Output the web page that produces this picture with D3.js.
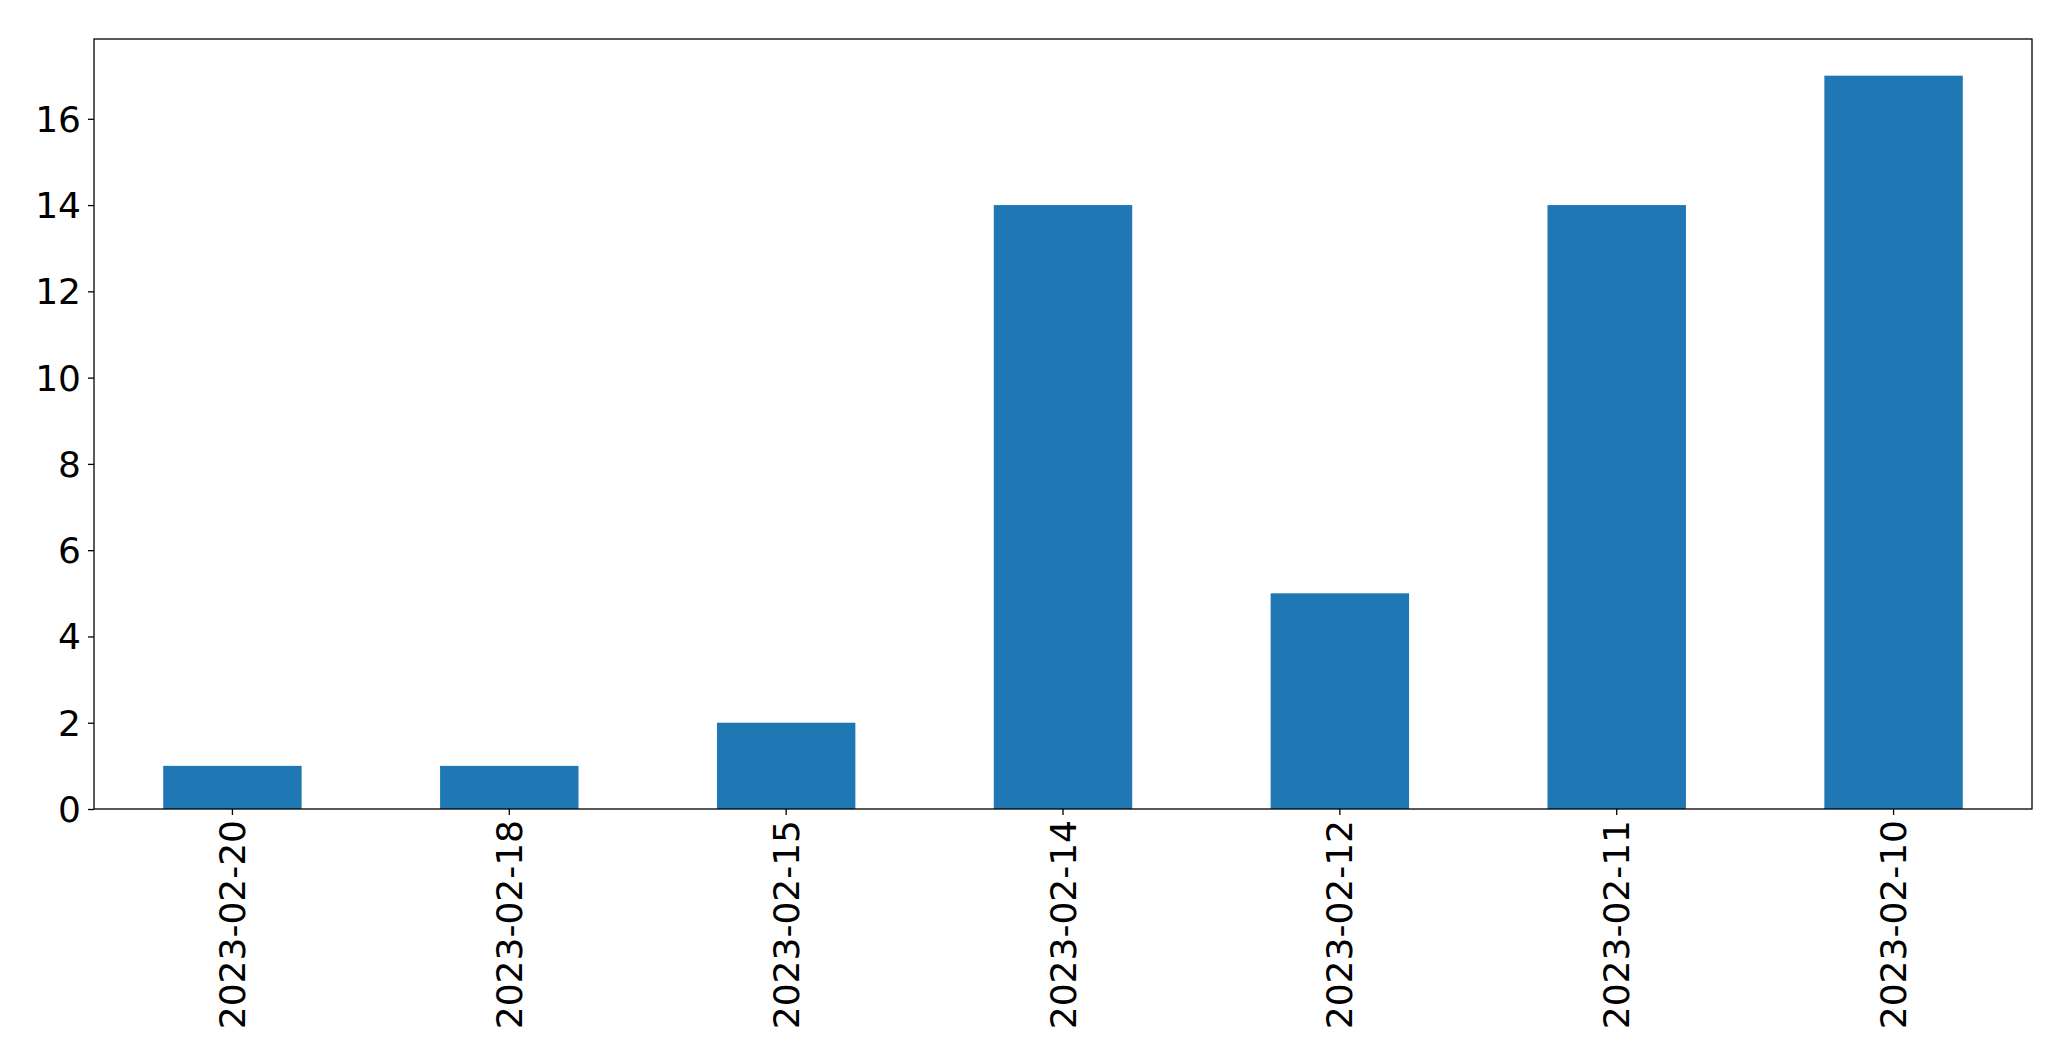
<!DOCTYPE html>
<html><head><meta charset="utf-8">
<script src="https://cdn.jsdelivr.net/npm/d3@7"></script>
<style>body{margin:0;background:#fff}svg{display:block}text{font-family:"DejaVu Sans",sans-serif;fill:#000}</style>
</head><body>
<script>
const categories = ["2023-02-20","2023-02-18","2023-02-15","2023-02-14","2023-02-12","2023-02-11","2023-02-10"];
const values = [1,1,2,14,5,14,17];
const yTicks = [0,2,4,6,8,10,12,14,16];

const W = 2071, H = 1061;
const m = {left:94, top:39, right:2032, bottom:809};
const svg = d3.select("body").append("svg").attr("width",W).attr("height",H);

const x = d3.scaleBand().domain(categories).range([m.left,m.right]).paddingInner(0.5).paddingOuter(0.25);
const y = d3.scaleLinear().domain([0, 17*1.05]).range([m.bottom,m.top]);

svg.append("g").selectAll("rect").data(values).join("rect")
  .attr("x",(d,i)=>x(categories[i])).attr("width",x.bandwidth())
  .attr("y",d=>y(d)).attr("height",d=>y(0)-y(d)).attr("fill","#1f77b4");

const fs = 36;
const xa = svg.append("g").attr("transform",`translate(0,${m.bottom})`)
  .call(d3.axisBottom(x).tickSize(6).tickPadding(0));
xa.select(".domain").remove();
xa.selectAll("line").attr("stroke","#000").attr("stroke-width",1.3);
xa.selectAll("text").attr("font-size",fs).attr("text-anchor","end")
  .attr("dominant-baseline","central").attr("dy",null)
  .attr("transform","translate(0,11) rotate(-90)").attr("x",0).attr("y",0);

const ya = svg.append("g").attr("transform",`translate(${m.left},0)`)
  .call(d3.axisLeft(y).tickValues(yTicks).tickSize(6).tickPadding(7));
ya.select(".domain").remove();
ya.selectAll("line").attr("stroke","#000").attr("stroke-width",1.3);
ya.selectAll("text").attr("font-size",fs).attr("dominant-baseline","central").attr("dy",null);

svg.append("rect").attr("x",m.left).attr("y",m.top).attr("width",m.right-m.left).attr("height",m.bottom-m.top)
  .attr("fill","none").attr("stroke","#000").attr("stroke-width",1.3);
</script>
</body></html>
